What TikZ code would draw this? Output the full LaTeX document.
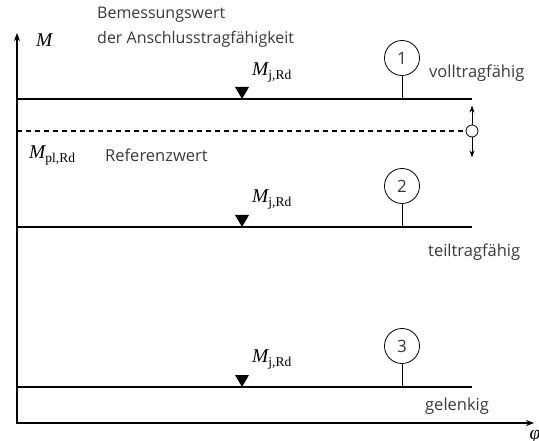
\documentclass[tikz,border=0pt]{standalone}
\usepackage[no-math]{fontspec}
\setmainfont{Open Sans}
\newfontfamily\serfont{Liberation Serif}
\newcommand\Msym[1]{{\serfont\itshape M}\raisebox{-4pt}{\serfont\fontsize{13.5}{14}\selectfont #1}}
\usetikzlibrary{arrows.meta}
\definecolor{txt}{HTML}{3A3A3A}
\begin{document}
\begin{tikzpicture}[x=1pt,y=-1pt,
  lbl/.style={font=\fontsize{16.5}{18}\selectfont, text=txt, inner sep=0pt, anchor=west},
  mth/.style={font=\fontsize{19.5}{21}\selectfont, inner sep=0pt, anchor=west},
  numcirc/.style={draw, line width=0.8pt, circle, minimum size=35pt, inner sep=0pt, font=\fontsize{17}{19}\selectfont, text=txt},
  level/.style={line width=1.8pt},
  stem/.style={line width=0.8pt},
  axis/.style={line width=1.8pt},
  tip/.style={-{Stealth[length=7pt,width=5pt]}}
]
\useasboundingbox (0,0) rectangle (539,441);

% axes
\coordinate (ytop) at (17,33);
\coordinate (O) at (17,423);
\coordinate (xend) at (534,423);
\draw[axis, {Stealth[length=8pt,width=6pt]}-{Stealth[length=8pt,width=6pt]}] (ytop) -- (O) -- (xend);
\node[mth] (M) at (36,40) {\serfont\itshape M};
\node[mth, anchor=north] (phi) at (535,430) {\serfont\itshape φ};

% title
\node[lbl, anchor=north west, align=left, font=\fontsize{16}{25}\selectfont] (title) at (97,7)
  {Bemessungswert\\der Anschlusstragfähigkeit};

% level 1
\coordinate (l1a) at (17,99);
\coordinate (l1b) at (472,99);
\draw[level] (l1a) -- (l1b);
\node[numcirc] (c1) at (402,58) {1};
\draw[stem] (c1.south) -- (c1.south |- l1a);
\node[lbl] (v1) at (429,73) {volltragfähig};
\coordinate (t1) at (242,99);
\fill (t1) -- ++(-7,-12) -- ++(14,0) -- cycle;
\node[mth] (mj1) at (252,73) {\Msym{j,Rd}};

% reference level
\coordinate (ra) at (17,131);
\node[draw, circle, line width=0.8pt, minimum size=12pt, inner sep=0pt, fill=white] (rc) at (472,131) {};
\draw[line width=1.3pt, dash pattern=on 5pt off 4pt] (ra) -- (rc.west);
\draw[stem, tip] (rc.north) -- ++(0,-19);
\draw[stem, tip] (rc.south) -- ++(0,20);
\node[mth] (mpl) at (29,156) {\Msym{pl,Rd}};
\node[lbl] (ref) at (105,155) {Referenzwert};

% level 2
\coordinate (l2a) at (17,227);
\coordinate (l2b) at (472,227);
\draw[level] (l2a) -- (l2b);
\node[numcirc] (c2) at (402,186) {2};
\draw[stem] (c2.south) -- (c2.south |- l2a);
\node[lbl] (v2) at (428,252) {teiltragfähig};
\coordinate (t2) at (242,227);
\fill (t2) -- ++(-7,-12) -- ++(14,0) -- cycle;
\node[mth] (mj2) at (252,200) {\Msym{j,Rd}};

% level 3
\coordinate (l3a) at (17,387);
\coordinate (l3b) at (472,387);
\draw[line width=1.4pt] (l3a) -- (l3b);
\node[numcirc] (c3) at (402,346) {3};
\draw[stem] (c3.south) -- (c3.south |- l3a);
\node[lbl] (v3) at (425,406) {gelenkig};
\coordinate (t3) at (242,387);
\fill (t3) -- ++(-7,-12) -- ++(14,0) -- cycle;
\node[mth] (mj3) at (252,360) {\Msym{j,Rd}};
\end{tikzpicture}
\end{document}
